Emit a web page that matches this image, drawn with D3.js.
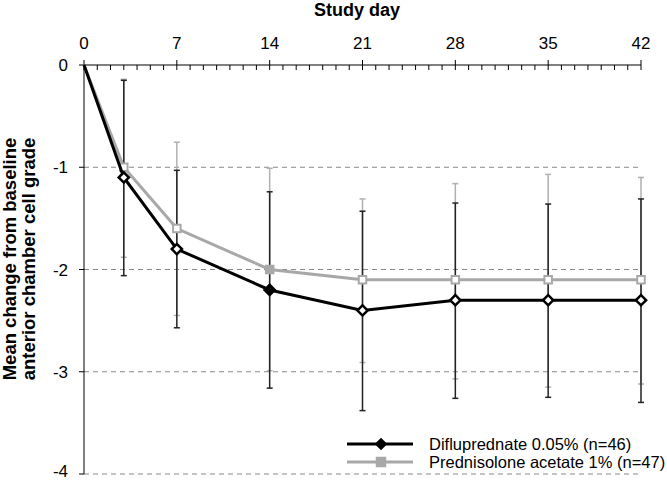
<!DOCTYPE html>
<html>
<head>
<meta charset="utf-8">
<script src="https://cdn.jsdelivr.net/npm/d3@7"></script>
<style>
  body { margin: 0; background: #fff; }
  svg { font-family: "Liberation Sans", Arial, sans-serif; }
</style>
</head>
<body>
<svg id="chart" width="667" height="480"></svg>
<script>
const days = [0, 3, 7, 14, 21, 28, 35, 42];
const xTicks = [0, 7, 14, 21, 28, 35, 42];
const yTicks = [0, -1, -2, -3, -4];

const diflu = [0, -1.1, -1.8, -2.2, -2.4, -2.3, -2.3, -2.3];
const difluHi = [0, -0.15, -1.03, -1.24, -1.43, -1.35, -1.36, -1.31];
const difluLo = [0, -2.06, -2.57, -3.16, -3.38, -3.26, -3.25, -3.3];

const pred = [0, -1.0, -1.6, -2.0, -2.1, -2.1, -2.1, -2.1];
const predHi = [0, -0.14, -0.755, -1.01, -1.31, -1.16, -1.07, -1.1];
const predLo = [0, -1.88, -2.45, -2.99, -2.91, -3.07, -3.15, -3.12];

const svg = d3.select("#chart");
const x = d3.scaleLinear().domain([0, 42]).range([84, 641]);
const y = d3.scaleLinear().domain([-4, 0]).range([474, 65]);

// dashed grid
svg.append("g")
  .selectAll("line")
  .data(yTicks.filter((d) => d !== 0))
  .enter()
  .append("line")
  .attr("x1", x(0))
  .attr("x2", x(42))
  .attr("y1", (d) => y(d))
  .attr("y2", (d) => y(d))
  .attr("stroke", "#888")
  .attr("stroke-width", 1)
  .attr("stroke-dasharray", "5,4");

// top axis
svg.append("line")
  .attr("x1", x(0)).attr("x2", x(42))
  .attr("y1", y(0)).attr("y2", y(0))
  .attr("stroke", "#000");

svg.append("g")
  .selectAll("line")
  .data(d3.range(0, 43))
  .enter()
  .append("line")
  .attr("x1", (d) => x(d))
  .attr("x2", (d) => x(d))
  .attr("y1", (d) => (d % 7 === 0 ? y(0) - 5 : y(0)))
  .attr("y2", (d) => y(0) + 5)
  .attr("stroke", "#000");

svg.append("g")
  .selectAll("text")
  .data(xTicks)
  .enter()
  .append("text")
  .attr("x", (d) => x(d))
  .attr("y", 49)
  .attr("text-anchor", "middle")
  .attr("font-size", 17)
  .text((d) => d);

svg.append("text")
  .attr("x", 357)
  .attr("y", 16)
  .attr("text-anchor", "middle")
  .attr("font-size", 18)
  .attr("font-weight", "bold")
  .text("Study day");

// left axis
svg.append("line")
  .attr("x1", x(0)).attr("x2", x(0))
  .attr("y1", y(0)).attr("y2", y(-4))
  .attr("stroke", "#000");

svg.append("g")
  .selectAll("line")
  .data(yTicks)
  .enter()
  .append("line")
  .attr("x1", x(0) - 5)
  .attr("x2", x(0))
  .attr("y1", (d) => y(d))
  .attr("y2", (d) => y(d))
  .attr("stroke", "#000");

svg.append("g")
  .selectAll("text")
  .data(yTicks)
  .enter()
  .append("text")
  .attr("x", 68)
  .attr("y", (d) => Math.min(y(d) + 6, 477))
  .attr("text-anchor", "end")
  .attr("font-size", 17)
  .text((d) => (d === 0 ? "0" : "-" + Math.abs(d)));

const yTitle = svg.append("text")
  .attr("transform", "translate(0,259) rotate(-90)")
  .attr("text-anchor", "middle")
  .attr("font-size", 18.5)
  .attr("font-weight", "bold");
yTitle.append("tspan").attr("x", 0).attr("y", 16).text("Mean change from baseline");
yTitle.append("tspan").attr("x", 0).attr("y", 35).text("anterior chamber cell grade");

// error bars
function errorBars(hi, lo, color, width) {
  const g = svg.append("g").attr("stroke", color).attr("stroke-width", width);
  const idx = d3.range(1, days.length);
  g.selectAll(".v").data(idx).enter().append("line")
    .attr("x1", (i) => x(days[i])).attr("x2", (i) => x(days[i]))
    .attr("y1", (i) => y(hi[i])).attr("y2", (i) => y(lo[i]));
  g.selectAll(".t").data(idx).enter().append("line")
    .attr("x1", (i) => x(days[i]) - 3).attr("x2", (i) => x(days[i]) + 3)
    .attr("y1", (i) => y(hi[i])).attr("y2", (i) => y(hi[i]));
  g.selectAll(".b").data(idx).enter().append("line")
    .attr("x1", (i) => x(days[i]) - 3).attr("x2", (i) => x(days[i]) + 3)
    .attr("y1", (i) => y(lo[i])).attr("y2", (i) => y(lo[i]));
}

errorBars(predHi, predLo, "#b0b0b0", 1.5);
errorBars(difluHi, difluLo, "#222", 1.5);

const line = d3.line().x((d, i) => x(days[i])).y((d) => y(d));

const grayC = "#a8a8a8";
svg.append("path")
  .attr("d", line(pred))
  .attr("fill", "none")
  .attr("stroke", grayC)
  .attr("stroke-width", 3);

svg.append("g")
  .selectAll("path")
  .data(d3.range(1, days.length))
  .enter()
  .append("path")
  .attr("d", d3.symbol(d3.symbolSquare, 56)())
  .attr("transform", (i) => `translate(${x(days[i])},${y(pred[i])})`)
  .attr("fill", (i) => (days[i] === 14 ? grayC : "#fff"))
  .attr("stroke", grayC)
  .attr("stroke-width", 2);

svg.append("path")
  .attr("d", line(diflu))
  .attr("fill", "none")
  .attr("stroke", "#000")
  .attr("stroke-width", 3);

svg.append("g")
  .selectAll("path")
  .data(d3.range(1, days.length))
  .enter()
  .append("path")
  .attr("d", d3.symbol(d3.symbolSquare, 52)())
  .attr("transform", (i) => `translate(${x(days[i])},${y(diflu[i])}) rotate(45)`)
  .attr("fill", (i) => (days[i] === 14 ? "#000" : "#fff"))
  .attr("stroke", "#000")
  .attr("stroke-width", 2.5);

// legend
const legend = [
  { label: "Difluprednate 0.05% (n=46)", color: "#000", sym: "diamond" },
  { label: "Prednisolone acetate 1% (n=47)", color: grayC, sym: "square" },
];
const lg = svg.append("g")
  .selectAll("g")
  .data(legend)
  .enter()
  .append("g")
  .attr("transform", (d, i) => `translate(347,${444 + i * 18})`);
lg.append("line")
  .attr("x1", 0).attr("x2", 66)
  .attr("stroke", (d) => d.color)
  .attr("stroke-width", 3);
lg.append("path")
  .attr("d", (d) => d3.symbol(d3.symbolSquare, d.sym === "diamond" ? 80 : 110)())
  .attr("transform", (d) => `translate(34,0)` + (d.sym === "diamond" ? " rotate(45)" : ""))
  .attr("fill", (d) => d.color);
lg.append("text")
  .attr("x", 82)
  .attr("y", 6)
  .attr("font-size", 16.5)
  .text((d) => d.label);
</script>
</body>
</html>
